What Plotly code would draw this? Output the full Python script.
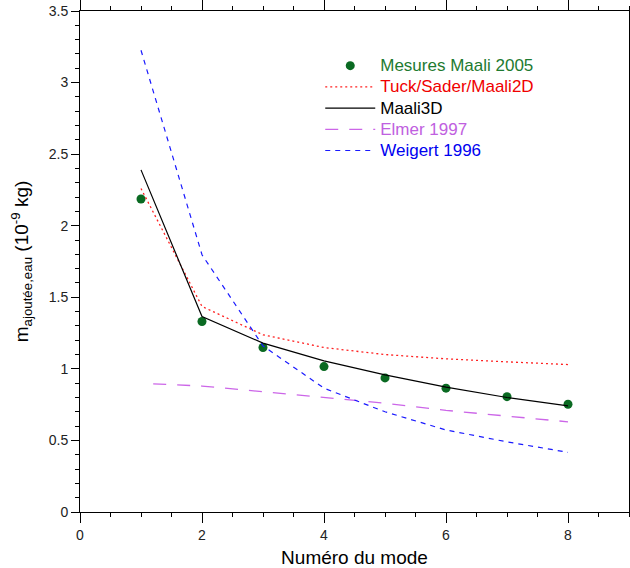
import plotly.graph_objects as go

modes = [1, 2, 3, 4, 5, 6, 7, 8]
mesures = [2.187, 1.331, 1.149, 1.016, 0.937, 0.865, 0.806, 0.753]
tuck = [2.26, 1.436, 1.238, 1.149, 1.10, 1.07, 1.049, 1.03]
maali3d = [2.39, 1.366, 1.18, 1.056, 0.958, 0.872, 0.80, 0.741]
elmer_x = [1.2, 2, 3, 4, 5, 6, 7, 8]
elmer = [0.895, 0.88, 0.84, 0.80, 0.76, 0.71, 0.67, 0.63]
weigert = [3.226, 1.797, 1.16, 0.865, 0.70, 0.573, 0.49, 0.417]

FONT = "Liberation Sans, Arial, sans-serif"


def lab(text, color):
    return f"<span style='color:{color};font-size:17px'>{text}</span>"


fig = go.Figure()
fig.add_trace(go.Scatter(x=modes, y=mesures, mode="markers",
                         marker=dict(color="#0a6a22", size=9),
                         name=lab("Mesures Maali 2005", "#1d7a30")))
fig.add_trace(go.Scatter(x=modes, y=tuck, mode="lines",
                         line=dict(color="#ff2020", width=1.3, dash="2px,3px"),
                         name=lab("Tuck/Sader/Maali2D", "#f00000")))
fig.add_trace(go.Scatter(x=modes, y=maali3d, mode="lines",
                         line=dict(color="#000000", width=1.2),
                         name=lab("Maali3D", "#000000")))
fig.add_trace(go.Scatter(x=elmer_x, y=elmer, mode="lines",
                         line=dict(color="#cc66e8", width=1.3, dash="13px,11px"),
                         name=lab("Elmer 1997", "#c060e0")))
fig.add_trace(go.Scatter(x=modes, y=weigert, mode="lines",
                         line=dict(color="#1a1aff", width=1.2, dash="5px,5px"),
                         name=lab("Weigert 1996", "#0000f0")))

axcommon = dict(showgrid=False, zeroline=False, linecolor="black", linewidth=1,
                tickcolor="black", automargin=False,
                tickfont=dict(family=FONT, size=14, color="#222"))

fig.update_layout(
    width=630, height=568,
    margin=dict(l=80, r=1, t=11, b=56, autoexpand=False),
    plot_bgcolor="white", paper_bgcolor="white",
    font=dict(family=FONT, color="black"),
    showlegend=True,
    legend=dict(x=0.4376, y=0.922, xanchor="left", yanchor="top",
                bgcolor="rgba(0,0,0,0)", borderwidth=0,
                font=dict(family=FONT, size=14), itemwidth=50, tracegroupgap=0),
    xaxis=dict(range=[0, 9], dtick=2, tick0=0, ticks="outside", ticklen=10,
               mirror="ticks", showline=True,
               minor=dict(dtick=0.5, ticks="outside", ticklen=4, tickcolor="black"),
               title=dict(text="Numéro du mode", font=dict(family=FONT, size=19)),
               **axcommon),
    yaxis=dict(range=[0, 3.5], dtick=0.5, tick0=0, ticks="outside", ticklen=8,
               mirror="ticks", showline=True,
               minor=dict(dtick=0.1, ticks="outside", ticklen=4, tickcolor="black"),
               title=dict(text="m<sub>ajoutée,eau</sub> (10<sup>-9</sup> kg)",
                          font=dict(family=FONT, size=19)),
               **axcommon),
    xaxis2=dict(range=[0, 9], dtick=2, tick0=0, overlaying="x", side="bottom",
                ticks="inside", ticklen=10, mirror="ticks", showline=False,
                automargin=False,
                showticklabels=False, showgrid=False, zeroline=False, tickcolor="black"),
    yaxis2=dict(range=[0, 3.5], dtick=0.5, tick0=0, overlaying="y", side="left",
                ticks="inside", ticklen=8, mirror="ticks", showline=False,
                automargin=False,
                showticklabels=False, showgrid=False, zeroline=False, tickcolor="black"),
)

fig.write_html("out.html",
               config={"displayModeBar": False},
               post_script="document.body.style.margin='0px';document.body.style.overflow='hidden';")
